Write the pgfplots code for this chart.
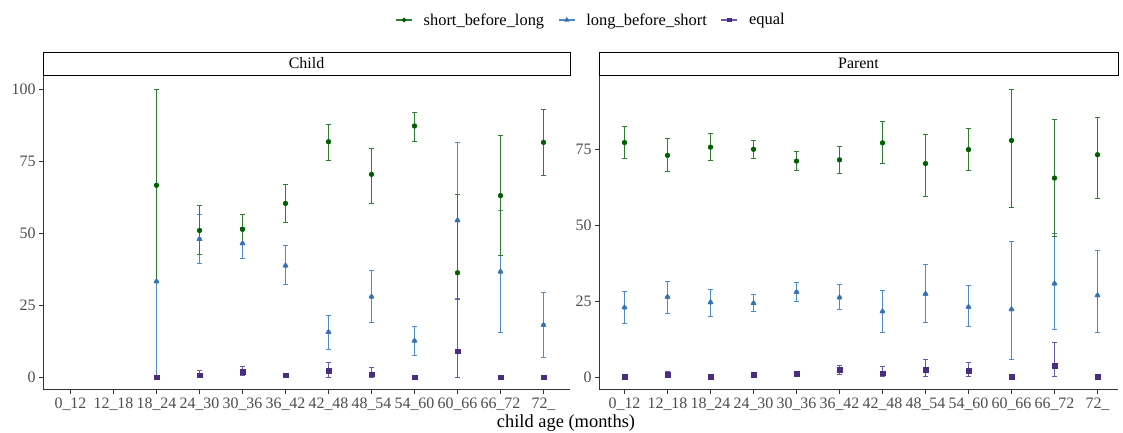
\documentclass[border=0pt]{standalone}
\usepackage{fontspec}
\setmainfont{Liberation Serif}
\usepackage{pgfplots}
\usepackage{pgfplotstable}
\pgfplotsset{compat=1.18}

\definecolor{sbl}{HTML}{005F00}
\definecolor{sblbar}{HTML}{2F7D2F}
\definecolor{lbs}{HTML}{3572B0}
\definecolor{lbsbar}{HTML}{4F8BC6}
\definecolor{eqp}{HTML}{4A2C82}
\definecolor{eqpbar}{HTML}{6A56A2}
\definecolor{tickgray}{HTML}{4D4D4D}
\definecolor{axgray}{HTML}{333333}

% columns: x (category index), y, lower, upper
\pgfplotstableread{
x y lo hi
2 66.7 33.3 100
3 51.0 42.5 59.6
4 51.4 46.3 56.6
5 60.4 53.9 66.9
6 81.8 75.2 87.8
7 70.5 60.5 79.5
8 87.3 81.8 92.1
9 36.3 9.1 63.5
10 63.1 42.2 83.9
11 81.6 70.2 92.9
}\childsbl
\pgfplotstableread{
x y lo hi
2 33.3 0 66.7
3 48.0 39.6 56.7
4 46.5 41.1 52.0
5 38.8 32.4 45.9
6 15.7 9.7 21.5
7 28.0 19.0 37.0
8 12.7 7.7 17.8
9 54.5 27.3 81.7
10 36.7 15.7 57.8
11 18.2 6.9 29.5
}\childlbs
\pgfplotstableread{
x y lo hi
2 0 0 0
3 0.7 0 2.3
4 1.9 0.5 3.6
5 0.7 0 1.5
6 2.2 0 5.2
7 1.1 0 3.5
8 0 0 0
9 9.1 0 27.2
10 0 0 0
11 0 0 0
}\childeq
\pgfplotstableread{
x y lo hi
0 77.3 72.0 82.6
1 73.1 67.7 78.5
2 75.8 71.3 80.2
3 75.1 72.0 78.1
4 71.2 68.0 74.5
5 71.6 67.2 76.0
6 77.2 70.4 84.1
7 70.4 59.6 79.9
8 75.0 68.1 82.0
9 78.0 55.8 94.7
10 65.6 46.3 84.8
11 73.3 58.7 85.5
}\parentsbl
\pgfplotstableread{
x y lo hi
0 22.9 17.6 28.3
1 26.4 21.0 31.6
2 24.6 20.0 29.0
3 24.3 21.5 27.2
4 28.0 24.8 31.1
5 26.2 22.2 30.5
6 21.6 14.8 28.4
7 27.4 18.0 37.1
8 23.1 16.8 30.1
9 22.3 5.6 44.6
10 30.8 15.5 47.2
11 26.9 14.6 41.6
}\parentlbs
\pgfplotstableread{
x y lo hi
0 0 0 0
1 0.8 0 1.9
2 0 0 0
3 0.8 0.2 1.4
4 1.1 0.3 1.9
5 2.4 0.9 3.8
6 1.3 0 3.4
7 2.3 0 5.9
8 2.1 0 4.9
9 0 0 0
10 3.8 0 11.5
11 0 0 0
}\parenteq

\pgfplotsset{
  facet/.style={
    scale only axis,
    height=315bp,
    xtick={0,...,11},
    xticklabels={0\_12,12\_18,18\_24,24\_30,30\_36,36\_42,42\_48,48\_54,54\_60,60\_66,66\_72,72\_},
    axis x line*=bottom, axis y line*=left,
    axis line style={axgray, line width=1bp, -},
    tick style={axgray, line width=0.9bp},
    tick align=outside, major tick length=4bp,
    xtick pos=bottom, ytick pos=left,
    tick label style={color=tickgray, font=\fontsize{16}{18}\selectfont},
    /pgf/number format/assume math mode=true,
    clip=false,
  },
}

% error bars only
\newcommand{\bars}[2]{%
  \addplot[forget plot, only marks, mark=none, color=#2bar,
    /pgfplots/error bars/y dir=both, /pgfplots/error bars/y explicit,
    /pgfplots/error bars/error bar style={color=#2bar, line width=1.7bp},
    /pgfplots/error bars/error mark options={color=#2bar, rotate=90, mark size=2.3bp, line width=1bp}]
    table[x=x, y=y, y error plus expr=\thisrow{hi}-\thisrow{y},
          y error minus expr=\thisrow{y}-\thisrow{lo}] {#1};}
% points on top
\newcommand{\pts}[4]{%
  \addplot[forget plot, only marks, color=#2, mark=#3, mark size=#4]
    table[x=x, y=y] {#1};}

\begin{document}
\begin{tikzpicture}[x=1bp, y=1bp]
\path[use as bounding box] (0,0) rectangle (1123,433);

\begin{axis}[facet, at={(43bp,43bp)}, anchor=south west, width=527bp,
  xmin=-0.6395, xmax=11.6163,
  ymin=-4.4, ymax=105, ytick={0,25,50,75,100},
  legend columns=3,
  legend style={at={(1.040,1.1746)}, anchor=center, draw=none, fill=none,
    font=\fontsize{16.5}{18}\selectfont,
    /tikz/every odd column/.append style={column sep=9bp},
    /tikz/every even column/.append style={column sep=12bp}},
  legend image code/.code={\draw[mark repeat=2, mark phase=2, #1]
    plot coordinates {(0bp,0bp) (8bp,0bp) (16bp,0bp)};},
]
\addlegendimage{sblbar, line width=1.2bp, mark=*, mark size=1.7bp, mark options={sbl}}
\addlegendentry{short\_before\_long}
\addlegendimage{lbsbar, line width=1.2bp, mark=triangle*, mark size=1.9bp, mark options={lbs}}
\addlegendentry{long\_before\_short}
\addlegendimage{eqpbar, line width=1.2bp, mark=square*, mark size=1.5bp, mark options={eqp}}
\addlegendentry{equal}
\bars{\childlbs}{lbs}
\bars{\childsbl}{sbl}
\bars{\childeq}{eqp}
\pts{\childlbs}{lbs}{triangle*}{3bp}
\pts{\childsbl}{sbl}{*}{2.4bp}
\pts{\childeq}{eqp}{square*}{2.3bp}
\draw[black, line width=0.9bp, fill=white] (rel axis cs:0,1) rectangle ([yshift=23bp]rel axis cs:1,1);
\node[font=\fontsize{16}{18}\selectfont] at ([yshift=11.5bp]rel axis cs:0.5,1) {Child};
\end{axis}

\begin{axis}[facet, at={(599bp,43bp)}, anchor=south west, width=519bp,
  xmin=-0.593, xmax=11.477,
  ymin=-4.3, ymax=99.6, ytick={0,25,50,75},
]
\bars{\parentlbs}{lbs}
\bars{\parentsbl}{sbl}
\bars{\parenteq}{eqp}
\pts{\parentlbs}{lbs}{triangle*}{3bp}
\pts{\parentsbl}{sbl}{*}{2.4bp}
\pts{\parenteq}{eqp}{square*}{2.3bp}
\draw[black, line width=0.9bp, fill=white] (rel axis cs:0,1) rectangle ([yshift=23bp]rel axis cs:1,1);
\node[font=\fontsize{16}{18}\selectfont] at ([yshift=11.5bp]rel axis cs:0.5,1) {Parent};
\end{axis}

\node[font=\fontsize{18.5}{20}\selectfont] at (566,10) {child age (months)};
\end{tikzpicture}
\end{document}
